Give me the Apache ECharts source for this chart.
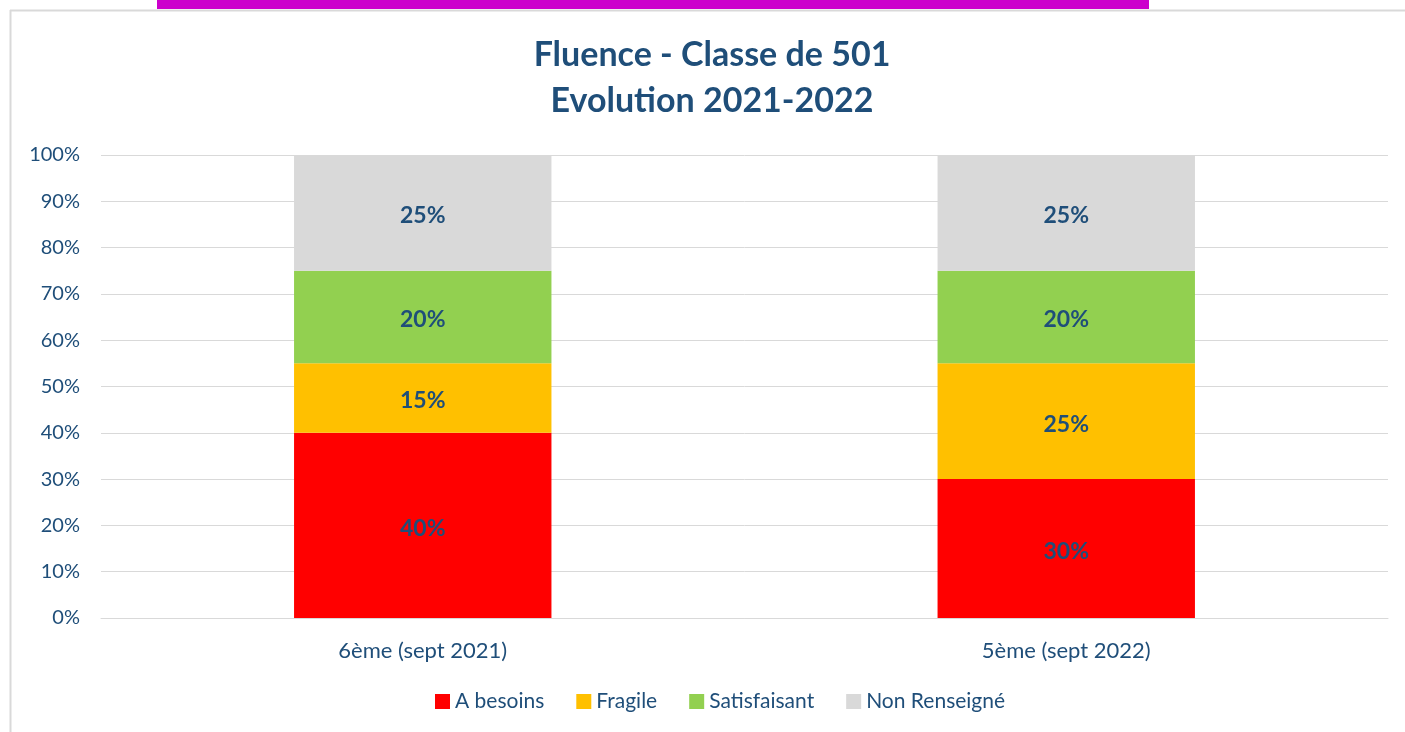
<!DOCTYPE html>
<html>
<head>
<meta charset="utf-8">
<script src="https://cdn.jsdelivr.net/npm/echarts@6/dist/echarts.min.js"></script>
<style>
  html, body { margin: 0; padding: 0; background: #fff; }
  #main { width: 1405px; height: 732px; }
</style>
</head>
<body>
<div id="main"></div>
<script>
// categories et valeurs (en %)
var categories = ['6ème (sept 2021)', '5ème (sept 2022)'];
var aBesoins = [40, 30];
var fragile = [15, 25];
var satisfaisant = [20, 20];
var nonRenseigne = [25, 25];
var yTicks = [0, 10, 20, 30, 40, 50, 60, 70, 80, 90, 100];

var txtColor = '#1F4E79';
var font = 'Lato, "Open Sans", sans-serif';

function serie(name, data, color) {
    return {
        name: name,
        type: 'bar',
        stack: 'total',
        barWidth: '40%',
        data: data,
        itemStyle: { color: color },
        label: {
            show: true,
            formatter: '{c}%',
            color: txtColor,
            fontWeight: 'bold',
            fontSize: 23,
            fontFamily: font,
            offset: [0, 3]
        }
    };
}

var myChart = echarts.init(document.getElementById('main'));
var option = {
    animation: false,
    backgroundColor: '#fff',
    graphic: [
        // cadre du graphique
        { type: 'line', shape: { x1: 10, y1: 10.5, x2: 1405, y2: 10.5 }, style: { stroke: '#D9D9D9', lineWidth: 2 } },
        { type: 'line', shape: { x1: 10.5, y1: 10, x2: 10.5, y2: 732 }, style: { stroke: '#D9D9D9', lineWidth: 2 } },
        // bandeau magenta en haut
        { type: 'rect', shape: { x: 157, y: 0, width: 992, height: 9 }, style: { fill: '#CC00CC' } }
    ],
    title: {
        text: 'Fluence - Classe de 501\nEvolution 2021-2022',
        left: 707,
        textAlign: 'center',
        top: 27,
        textStyle: {
            color: txtColor,
            fontSize: 34,
            fontWeight: 'bold',
            fontFamily: font,
            lineHeight: 46
        }
    },
    legend: {
        bottom: 15,
        left: 430,
        itemWidth: 15,
        itemHeight: 15,
        itemGap: 32,
        icon: 'rect',
        textStyle: { color: txtColor, fontSize: 21, fontFamily: font },
        data: ['A besoins', 'Fragile', 'Satisfaisant', 'Non Renseigné']
    },
    grid: { left: 101, right: 17, top: 155, bottom: 114 },
    xAxis: {
        type: 'category',
        data: categories,
        axisTick: { show: false },
        axisLine: { lineStyle: { color: '#D9D9D9' } },
        axisLabel: { color: txtColor, fontSize: 22, fontFamily: font, margin: 22 }
    },
    yAxis: {
        type: 'value',
        min: yTicks[0],
        max: yTicks[yTicks.length - 1],
        interval: 10,
        axisLabel: { formatter: '{value}%', color: txtColor, fontSize: 20, fontFamily: font, margin: 21 },
        splitLine: { lineStyle: { color: '#D9D9D9' } }
    },
    series: [
        serie('A besoins', aBesoins, '#FF0000'),
        serie('Fragile', fragile, '#FFC000'),
        serie('Satisfaisant', satisfaisant, '#92D050'),
        serie('Non Renseigné', nonRenseigne, '#D9D9D9')
    ]
};
myChart.setOption(option);
</script>
</body>
</html>
